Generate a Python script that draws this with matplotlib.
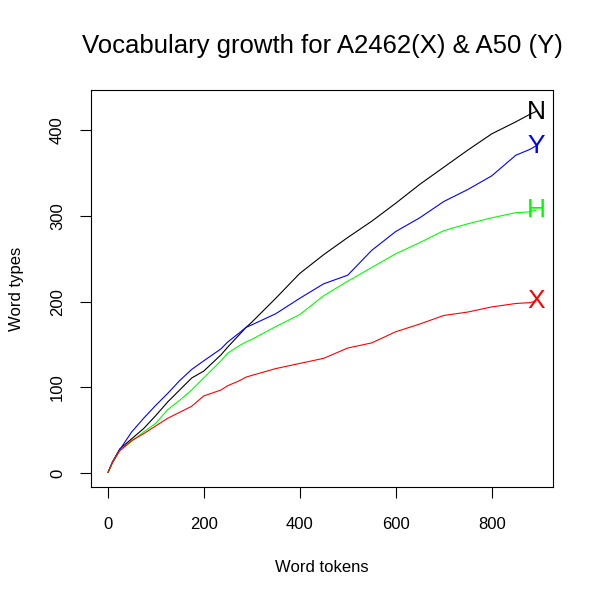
import matplotlib
matplotlib.use("Agg")
import matplotlib.pyplot as plt

plt.rcParams['font.family'] = ['Liberation Sans', 'DejaVu Sans']

# Word tokens at which values were read
tokens = [1, 10, 25, 50, 75, 100, 125, 150, 175, 200, 236, 250, 275, 288, 300, 350,
          400, 450, 500, 550, 600, 650, 700, 750, 800, 850, 880, 892]

# Word types (vocabulary growth) for each group
types_N = [1, 12.8, 28, 40, 52, 67, 83, 97, 111, 119, 138, 147, 162, 170, 176, 204,
           233, 255, 275, 294, 315, 337, 357, 377, 396, 410, 419, 422]
types_Y = [1, 13, 27, 48, 64, 79, 93, 108, 121, 131, 145, 153, 164, 170, 173, 186,
           204, 221, 231, 260, 282, 298, 317, 331, 347, 371, 378, 382]
types_H = [1, 12, 26, 37, 48, 58, 74, 85, 97, 111, 131, 140, 149, 153, 156, 171,
           185, 207, 224, 240, 256, 269, 283, 291, 298, 304, 305, 307]
types_X = [1, 12, 26, 38, 46, 55, 64, 71, 78, 90, 97, 102, 108, 112, 114, 122,
           128, 134, 146, 152, 165, 174, 184, 188, 194, 198, 199, 201]

series_labels = ['N', 'Y', 'H', 'X']
series_colors = ['#000000', '#0000FF', '#00FF00', '#FF0000']

x_ticks = [0, 200, 400, 600, 800]
y_ticks = [0, 100, 200, 300, 400]

W, H = 600, 600
fig = plt.figure(figsize=(6, 6), dpi=100)
L, R, T, B = 91, 553, 90, 487
ax = fig.add_axes([L / W, 1 - B / H, (R - L) / W, (B - T) / H])

for ys, col in zip([types_N, types_Y, types_H, types_X], series_colors):
    ax.plot(tokens, ys, color=col, lw=0.8)

for ys, lab, col in zip([types_N, types_Y, types_H, types_X], series_labels, series_colors):
    ax.text(tokens[-1], ys[-1], lab, color=col, fontsize=19,
            ha='center', va='center')

ax.set_xlim(-34.6, 927.6)
ax.set_ylim(-16.2, 447.2)
ax.set_xticks(x_ticks)
ax.set_yticks(y_ticks)
ax.tick_params(axis='both', length=8.2, width=0.8, labelsize=12, direction='out')
ax.tick_params(axis='x', pad=13.5)
ax.tick_params(axis='y', pad=10.5)
for lbl in ax.get_yticklabels():
    lbl.set_rotation(90)
    lbl.set_va('center')
    lbl.set_ha('right')
for s in ax.spines.values():
    s.set_linewidth(0.8)

ax.set_xlabel('Word tokens', fontsize=12, va='center')
ax.xaxis.set_label_coords(0.5, (B - 567) / (B - T))
ax.set_ylabel('Word types', fontsize=12, va='center')
ax.yaxis.set_label_coords((17 - L) / (R - L), 0.5)

ax.set_title('Vocabulary growth for A2462(X) & A50 (Y)', fontsize=18.5,
             y=(B - 46) / (B - T), va='center', pad=0)

fig.savefig('out.png', dpi=100)
